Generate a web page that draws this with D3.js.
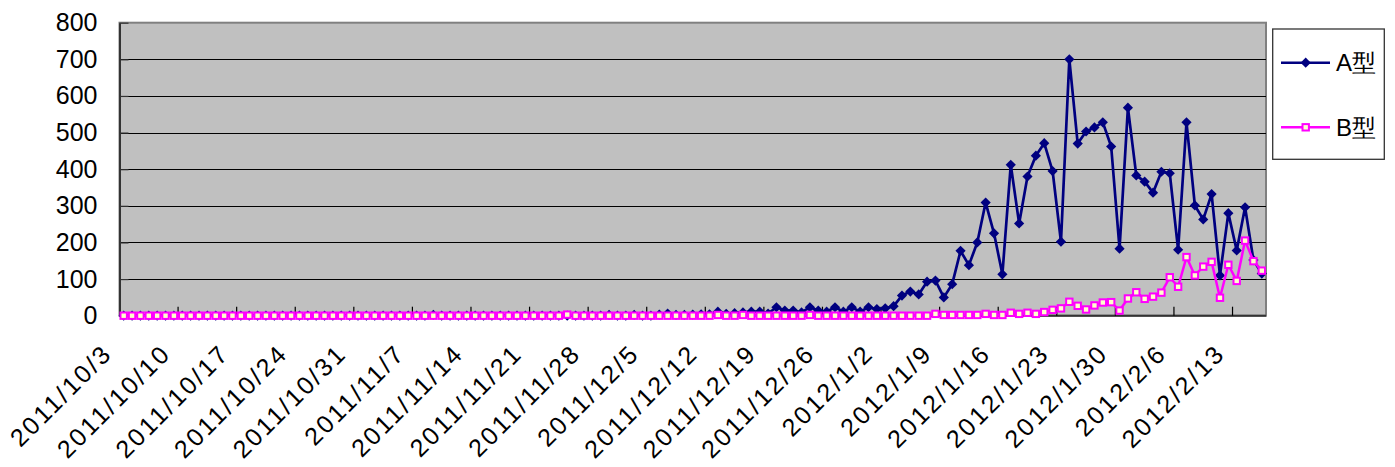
<!DOCTYPE html>
<html>
<head>
<meta charset="utf-8">
<script src="https://cdn.jsdelivr.net/npm/d3@7"></script>
<style>
  html, body { margin: 0; padding: 0; background: #ffffff; }
  svg { display: block; }
  text { font-family: "Liberation Sans", Arial, sans-serif; fill: #000; }
</style>
</head>
<body>
<svg id="chart" width="1395" height="467"></svg>
<script>
// ---- data ----
const startDate = new Date(2011, 9, 3);
const endDate = new Date(2012, 1, 17); // exclusive
const categories = d3.timeDay.range(startDate, endDate); // 137 daily categories

const seriesNames = ["A型", "B型"];

const seriesA = [
  0,0,0,0,0,0,0,0,0,0,
  0,0,0,0,0,0,0,0,0,0,
  0,0,0,0,0,0,0,0,0,0,
  0,0,0,0,0,0,0,2,0,0,
  0,0,0,0,0,0,0,0,0,0,
  0,0,0,0,0,0,0,0,2,0,
  0,2,0,0,3,6,2,2,3,4,
  4,11,5,7,9,11,11,6,23,14,
  14,9,23,14,11,23,11,23,11,23,
  18,20,26,55,66,58,93,96,50,86,
  177,138,200,309,225,113,412,252,380,437,
  471,395,202,700,470,503,514,528,462,183,
  568,383,366,336,393,389,180,528,301,263,
  332,110,280,178,296,152,115
];

const seriesB = [
  0,0,0,0,0,0,0,0,0,0,
  0,0,0,0,0,0,0,0,0,0,
  0,0,0,0,0,0,0,0,0,0,
  0,0,0,0,0,0,0,0,0,0,
  0,0,0,0,0,0,0,0,0,0,
  0,0,0,3,0,0,0,0,0,0,
  0,0,0,0,0,0,0,0,0,0,
  0,2,0,0,2,0,0,0,0,0,
  0,0,2,0,0,0,0,0,0,0,
  0,0,0,0,0,0,0,5,2,2,
  2,2,2,5,2,2,8,5,8,5,
  10,16,20,38,27,17,28,36,37,14,
  47,64,46,52,63,105,79,160,110,134,
  147,49,139,95,205,149,123
];

const yTicks = [0, 100, 200, 300, 400, 500, 600, 700, 800];
const xTickLabels = [
  "2011/10/3","2011/10/10","2011/10/17","2011/10/24","2011/10/31",
  "2011/11/7","2011/11/14","2011/11/21","2011/11/28","2011/12/5",
  "2011/12/12","2011/12/19","2011/12/26","2012/1/2","2012/1/9",
  "2012/1/16","2012/1/23","2012/1/30","2012/2/6","2012/2/13"
];
const labelEvery = 7;

// ---- layout ----
const svg = d3.select("#chart");
const plot = { left: 119.5, right: 1266, top: 22.7, bottom: 315.7 };

const x = d3.scaleBand().domain(categories).range([plot.left, plot.right]).padding(0);
const y = d3.scaleLinear().domain([0, 800]).range([plot.bottom, plot.top]);
const cx = d => x(d) + x.bandwidth() / 2;

// plot background
svg.append("rect")
  .attr("x", plot.left).attr("y", plot.top)
  .attr("width", plot.right - plot.left).attr("height", plot.bottom - plot.top)
  .attr("fill", "#c0c0c0")
  .attr("stroke", "#808080").attr("stroke-width", 2);

// gridlines
svg.append("g").selectAll("line")
  .data(yTicks.filter(v => v > 0 && v < 800))
  .join("line")
  .attr("x1", plot.left).attr("x2", plot.right)
  .attr("y1", d => Math.round(y(d)) + 0.5).attr("y2", d => Math.round(y(d)) + 0.5)
  .attr("stroke", "#000").attr("stroke-width", 1);

// y axis
const yAxis = d3.axisLeft(y).tickValues(yTicks).tickSizeInner(-9).tickSizeOuter(0).tickPadding(22);
const gy = svg.append("g").attr("transform", `translate(${plot.left},0)`).call(yAxis);
gy.select(".domain").attr("stroke", "#333").attr("stroke-width", 2);
gy.selectAll(".tick line").attr("stroke", "#333").attr("stroke-width", 1.2);
gy.selectAll(".tick text")
  .style("font-family", '"Liberation Sans", Arial, sans-serif')
  .style("font-size", "25px").attr("fill", "#000");

// x axis line
svg.append("line")
  .attr("x1", plot.left).attr("x2", plot.right)
  .attr("y1", plot.bottom).attr("y2", plot.bottom)
  .attr("stroke", "#333").attr("stroke-width", 2);

// x ticks at category boundaries every 7 days
const tickCats = categories.filter((d, i) => i % labelEvery === 0 && i > 0);
svg.append("g").selectAll("line")
  .data(tickCats)
  .join("line")
  .attr("x1", d => x(d)).attr("x2", d => x(d))
  .attr("y1", plot.bottom).attr("y2", plot.bottom - 9)
  .attr("stroke", "#000").attr("stroke-width", 1.2);

// x labels
const labelCats = categories.filter((d, i) => i % labelEvery === 0);
svg.append("g").selectAll("text")
  .data(labelCats)
  .join("text")
  .attr("transform", (d) => `translate(${cx(d) - 10},355) rotate(-45)`)
  .attr("text-anchor", "end")
  .style("font-size", "25px")
  .style("letter-spacing", "2.5px")
  .text((d, i) => xTickLabels[i]);

// series
const line = d3.line().x((v, i) => cx(categories[i])).y(v => y(v));
const diamond = d3.symbol().type(d3.symbolSquare).size(52);

// A series
svg.append("path")
  .datum(seriesA)
  .attr("d", line)
  .attr("fill", "none").attr("stroke", "#000080").attr("stroke-width", 2.7)
  .attr("stroke-linejoin", "round");
svg.append("g").selectAll("path")
  .data(seriesA)
  .join("path")
  .attr("d", diamond)
  .attr("transform", (v, i) => `translate(${cx(categories[i])},${y(v)}) rotate(45)`)
  .attr("fill", "#000080");

// B series
svg.append("path")
  .datum(seriesB)
  .attr("d", line)
  .attr("fill", "none").attr("stroke", "#ff00ff").attr("stroke-width", 2.5)
  .attr("stroke-linejoin", "round");
svg.append("g").selectAll("rect")
  .data(seriesB)
  .join("rect")
  .attr("x", (v, i) => cx(categories[i]) - 3.2)
  .attr("y", v => y(v) - 3.2)
  .attr("width", 6.4).attr("height", 6.4)
  .attr("fill", "#ffffcc").attr("stroke", "#ff00ff").attr("stroke-width", 2);

// legend
const lg = svg.append("g");
lg.append("rect")
  .attr("x", 1272.7).attr("y", 29).attr("width", 111.6).attr("height", 130.3)
  .attr("fill", "#fff").attr("stroke", "#333").attr("stroke-width", 1.3);

const legendItems = [
  { name: seriesNames[0], color: "#000080", y: 62.7, base: 70.7, marker: "diamond" },
  { name: seriesNames[1], color: "#ff00ff", y: 127.3, base: 136, marker: "square" }
];
legendItems.forEach(it => {
  lg.append("line").attr("x1", 1281).attr("x2", 1330).attr("y1", it.y).attr("y2", it.y)
    .attr("stroke", it.color).attr("stroke-width", 2.6);
  if (it.marker === "diamond") {
    lg.append("path").attr("d", diamond)
      .attr("transform", `translate(1305.7,${it.y}) rotate(45)`).attr("fill", it.color);
  } else {
    lg.append("rect").attr("x", 1305.7 - 3.2).attr("y", it.y - 3.2).attr("width", 6.4).attr("height", 6.4)
      .attr("fill", "#ffffcc").attr("stroke", it.color).attr("stroke-width", 2);
  }
  lg.append("text").attr("x", 1336).attr("y", it.base)
    .style("font-size", "24px").text(it.name);
});
</script>
</body>
</html>
